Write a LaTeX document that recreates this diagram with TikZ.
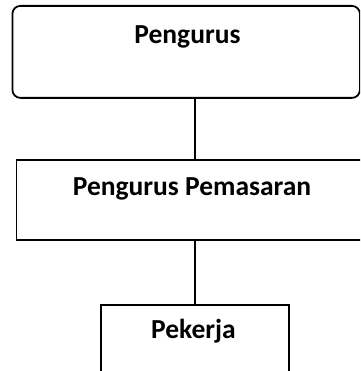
\documentclass[tikz,border=0pt]{standalone}
\usepackage{fontspec}
\setmainfont{Carlito}
\begin{document}
\begin{tikzpicture}[x=1pt,y=-1pt,
  boxline/.style={draw=black,line width=1.8pt},
  lbl/.style={anchor=base,inner sep=0pt,font=\fontsize{27.5}{30}\selectfont\bfseries},
  conn/.style={draw=black,line width=1.4pt}]
\useasboundingbox (0,0) rectangle (360,371);
\clip (0,0) rectangle (360,371);
\node[boxline,rounded corners=8pt,minimum width=347.5pt,minimum height=92pt,inner sep=0pt,anchor=north west] (top) at (11.5,5) {};
\node[boxline,minimum width=360pt,minimum height=80pt,inner sep=0pt,anchor=north west] (mid) at (15.5,159) {};
\node[boxline,minimum width=188pt,minimum height=90pt,inner sep=0pt,anchor=north west] (bot) at (100,304) {};
\node[lbl] (t1) at (187.5,44) {Pengurus};
\node[lbl] (t2) at (192,195) {Pengurus Pemasaran};
\node[lbl] (t3) at (193.5,338) {Pekerja};
\draw[conn] (top.south -| bot.north) -- (mid.north -| bot.north);
\draw[conn] (mid.south -| bot.north) -- (bot.north);
\end{tikzpicture}
\end{document}
